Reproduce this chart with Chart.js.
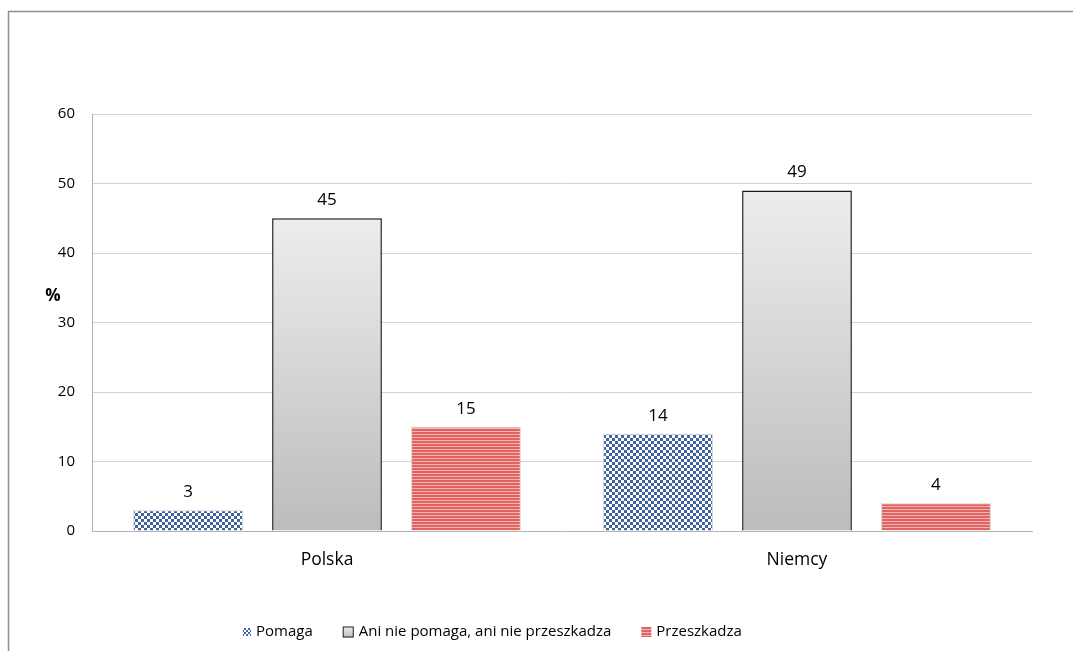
<!DOCTYPE html>
<html>
<head>
<meta charset="utf-8">
<script src="https://cdn.jsdelivr.net/npm/chart.js@4.4.1/dist/chart.umd.min.js"></script>
<style>
  html,body{margin:0;padding:0;background:#fff;}
  #wrap{width:1073px;height:651px;position:relative;}
</style>
</head>
<body>
<div id="wrap"><canvas id="c" width="1073" height="651"></canvas></div>
<script>
const categories = ['Polska', 'Niemcy'];
const seriesNames = ['Pomaga', 'Ani nie pomaga, ani nie przeszkadza', 'Przeszkadza'];
const pomaga = [3, 14];
const neutral = [45, 49];
const przeszkadza = [15, 4];
const yTickValues = [0, 10, 20, 30, 40, 50, 60];
const yAxisLabel = '%';

const FONT = "'Open Sans', 'DejaVu Sans', sans-serif";

function checkerPattern(sq) {
  const c = document.createElement('canvas');
  c.width = sq * 2; c.height = sq * 2;
  const g = c.getContext('2d');
  g.fillStyle = '#ffffff'; g.fillRect(0, 0, sq * 2, sq * 2);
  g.fillStyle = '#3d64a0';
  g.fillRect(0, 0, sq, sq); g.fillRect(sq, sq, sq, sq);
  return document.getElementById('c').getContext('2d').createPattern(c, 'repeat');
}
function stripePattern() {
  const c = document.createElement('canvas');
  c.width = 4; c.height = 3;
  const g = c.getContext('2d');
  g.fillStyle = '#e2625f'; g.fillRect(0, 0, 4, 2);
  g.fillStyle = '#f4b4b2'; g.fillRect(0, 2, 4, 1);
  return document.getElementById('c').getContext('2d').createPattern(c, 'repeat');
}
const bluePat = checkerPattern(3);
const bluePatSmall = checkerPattern(2);
const redPat = stripePattern();

function grayGradient(ctx) {
  const chart = ctx.chart;
  if (!chart.chartArea || !chart.scales.y) return '#d4d4d4';
  const y = chart.scales.y;
  const top = y.getPixelForValue(ctx.raw);
  const base = y.getPixelForValue(0);
  const g = chart.ctx.createLinearGradient(0, top, 0, base);
  g.addColorStop(0, '#ededed');
  g.addColorStop(1, '#bcbcbc');
  return g;
}

const framePlugin = {
  id: 'frame',
  beforeDraw(chart) {
    const c = chart.ctx;
    c.save();
    c.strokeStyle = '#8e8e8e';
    c.lineWidth = 1.5;
    c.beginPath();
    c.moveTo(8.5, chart.height);
    c.lineTo(8.5, 11.5);
    c.lineTo(chart.width, 11.5);
    c.stroke();
    c.restore();
  }
};

const labelPlugin = {
  id: 'valueLabels',
  afterDatasetsDraw(chart) {
    const c = chart.ctx;
    c.save();
    c.font = "17px " + FONT;
    c.fillStyle = '#000';
    c.textAlign = 'center';
    c.textBaseline = 'middle';
    chart.data.datasets.forEach((ds, i) => {
      const meta = chart.getDatasetMeta(i);
      meta.data.forEach((el, j) => {
        c.fillText(String(ds.data[j]), el.x, el.y - 18);
      });
    });
    const y = chart.scales.y;
    c.font = "bold 17px " + FONT;
    c.textAlign = 'center';
    c.fillText(yAxisLabel, chart.chartArea.left - 39, y.getPixelForValue(33.8));
    c.restore();
  }
};

const legendPlugin = {
  id: 'customLegend',
  afterDraw(chart) {
    const c = chart.ctx;
    c.save();
    c.font = "15px " + FONT;
    c.textBaseline = 'middle';
    c.fillStyle = '#000';
    const yc = 632;
    let x = 243;
    const boxes = [
      {w: 8, draw: (x) => { c.fillStyle = bluePatSmall; c.fillRect(x, yc - 4, 8, 8); }},
      {w: 11, draw: (x) => {
        const g = c.createLinearGradient(0, yc - 5, 0, yc + 6);
        g.addColorStop(0, '#ededed'); g.addColorStop(1, '#bcbcbc');
        c.fillStyle = g; c.fillRect(x, yc - 5.5, 11, 11);
        c.strokeStyle = '#222'; c.lineWidth = 1; c.strokeRect(x + 0.5, yc - 5, 10, 10);
      }},
      {w: 10, draw: (x) => { c.fillStyle = redPat; c.fillRect(x, yc - 5, 10, 10); }}
    ];
    seriesNames.forEach((name, i) => {
      boxes[i].draw(x);
      x += boxes[i].w + 5;
      c.fillStyle = '#000';
      c.fillText(name, x, yc);
      x += c.measureText(name).width + 30;
    });
    c.restore();
  }
};

new Chart(document.getElementById('c'), {
  type: 'bar',
  data: {
    labels: categories,
    datasets: [
      { label: seriesNames[0], data: pomaga, backgroundColor: bluePat, borderColor: 'rgba(190,190,190,0.7)', borderWidth: 1 },
      { label: seriesNames[1], data: neutral, backgroundColor: grayGradient, borderColor: '#1a1a1a', borderWidth: 1.5 },
      { label: seriesNames[2], data: przeszkadza, backgroundColor: redPat, borderColor: 'rgba(190,190,190,0.7)', borderWidth: 1 }
    ]
  },
  options: {
    responsive: false,
    animation: false,
    devicePixelRatio: 1,
    layout: { padding: { top: 114, right: 41, bottom: 0, left: 0 } },
    datasets: { bar: { categoryPercentage: 0.887, barPercentage: 0.79 } },
    plugins: { legend: { display: false }, tooltip: { enabled: false } },
    scales: {
      x: {
        grid: { display: false, drawTicks: false },
        border: { color: '#b4b4b4', width: 1 },
        ticks: { color: '#000', font: { family: FONT, size: 17.5 }, padding: 19 },
        afterFit(s) { s.height = 120; }
      },
      y: {
        min: 0, max: 60,
        afterBuildTicks(s) { s.ticks = yTickValues.map(v => ({ value: v })); },
        grid: { color: '#d2d2d2', drawTicks: false },
        border: { color: '#b4b4b4', width: 1 },
        ticks: { color: '#000', font: { family: FONT, size: 15 }, padding: 17 },
        afterFit(s) { s.width = 92; }
      }
    }
  },
  plugins: [framePlugin, labelPlugin, legendPlugin]
});
</script>
</body>
</html>
